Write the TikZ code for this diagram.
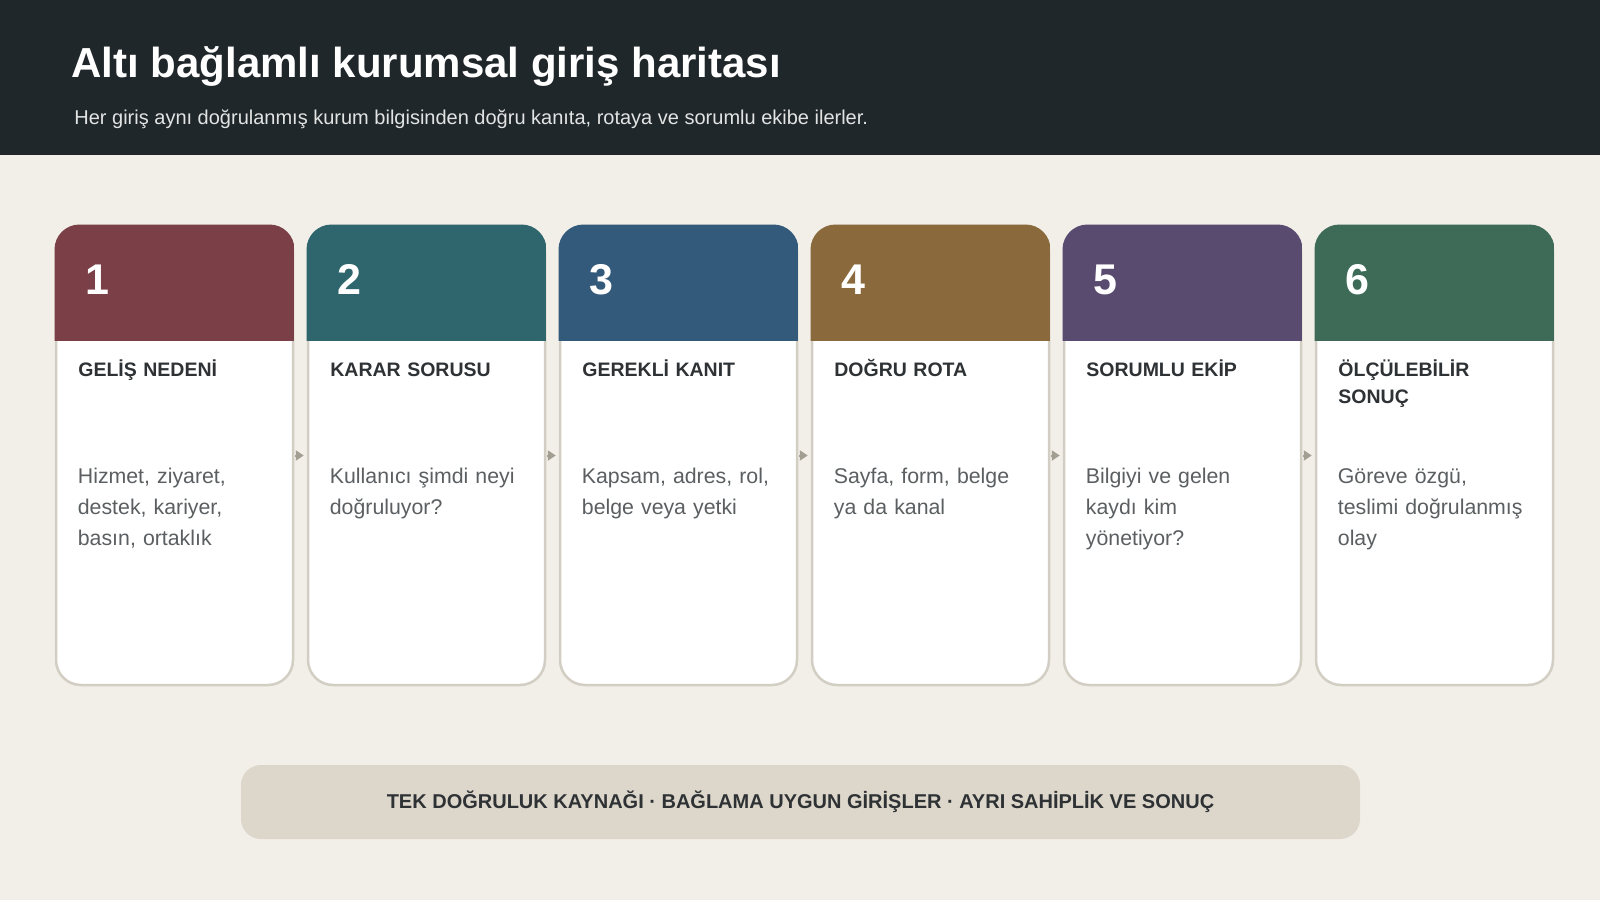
\documentclass[tikz,border=0pt]{standalone}
\usepackage{fontspec}
\setmainfont{Liberation Sans}
\usetikzlibrary{arrows.meta}
\definecolor{band}{HTML}{20272B}
\definecolor{paper}{HTML}{F2EFE9}
\definecolor{cardline}{HTML}{D3CEC3}
\definecolor{arrowgrey}{HTML}{A29E92}
\definecolor{inkdark}{HTML}{2E3235}
\definecolor{inkgrey}{HTML}{5B5F61}
\definecolor{subtext}{HTML}{E2E4E3}
\definecolor{barfill}{HTML}{DDD6CA}
\definecolor{reason}{HTML}{7A3F47}
\definecolor{question}{HTML}{2F656D}
\definecolor{proof}{HTML}{345A7B}
\definecolor{route}{HTML}{8A6A3C}
\definecolor{team}{HTML}{594B6F}
\definecolor{result}{HTML}{3D6B57}
\begin{document}
\begin{tikzpicture}
  [x=0.5pt,y=-0.5pt,
   card/.style={draw=cardline,line width=1.25pt,fill=white,rounded corners=12.5pt,
     minimum width=118.5pt,minimum height=229.5pt,inner sep=0pt},
   num/.style={anchor=base west,inner sep=0pt,text=white,font=\bfseries\fontsize{21.5}{24}\selectfont},
   head/.style={anchor=base west,inner sep=0pt,text=inkdark,align=left,text width=100pt,
     font=\bfseries\fontsize{9.75}{13.25}\selectfont},
   body/.style={anchor=base west,inner sep=0pt,text=inkgrey,align=left,text width=105pt,
     font=\fontsize{10.65}{15.5}\selectfont},
   flow/.style={draw=arrowgrey,line width=1pt,-{Triangle[length=4pt,width=5pt]},
     shorten >=1.5pt,shorten <=0.5pt},
   footer/.style={fill=barfill,rounded corners=10pt,minimum width=559.5pt,minimum height=37pt,
     text=inkdark,font=\bfseries\fontsize{10}{12}\selectfont}]

  % background and title band
  \fill[paper] (0,0) rectangle (1600,900);
  \fill[band] (0,0) rectangle (1600,155);
  \node[anchor=base west,inner sep=0pt,text=white,font=\bfseries\fontsize{21}{25}\selectfont]
    (title) at (71,77) {Altı bağlamlı kurumsal giriş haritası};
  \node[anchor=base west,inner sep=0pt,text=subtext,font=\fontsize{10}{12}\selectfont]
    (subtitle) at (74,124) {Her giriş aynı doğrulanmış kurum bilgisinden doğru kanıta, rotaya ve sorumlu ekibe ilerler.};

  % six cards
  \foreach \i/\col/\head/\body in {
      1/reason/{GELİŞ NEDENİ}/{Hizmet, ziyaret,\\destek, kariyer,\\basın, ortaklık},
      2/question/{KARAR SORUSU}/{Kullanıcı şimdi neyi\\doğruluyor?},
      3/proof/{GEREKLİ KANIT}/{Kapsam, adres, rol,\\belge veya yetki},
      4/route/{DOĞRU ROTA}/{Sayfa, form, belge\\ya da kanal},
      5/team/{SORUMLU EKİP}/{Bilgiyi ve gelen\\kaydı kim\\yönetiyor?},
      6/result/{ÖLÇÜLEBİLİR\\SONUÇ}/{Göreve özgü,\\teslimi doğrulanmış\\olay}}{
    \pgfmathsetmacro\xl{56+(\i-1)*252}
    \node[card] (c\i) at (\xl+118.5,455.5) {};
    \begin{scope}
      \clip[rounded corners=12.5pt] (\xl-1.5,224.5) rectangle (\xl+238.5,686.5);
      \fill[\col] (\xl-2,224) rectangle (\xl+239,341);
    \end{scope}
    \node[num] (num\i) at (\xl+29,294) {\i};
    \node[head] (head\i) at (\xl+22,376.5) {\head};
    \node[body] (body\i) at (\xl+21.5,483.5) {\body};
  }

  \foreach \from/\to in {c1/c2,c2/c3,c3/c4,c4/c5,c5/c6}
    \draw[flow] (\from.east) -- (\to.west);

  \node[footer] (footer) at (800.5,802)
    {TEK DOĞRULUK KAYNAĞI · BAĞLAMA UYGUN GİRİŞLER · AYRI SAHİPLİK VE SONUÇ};

\end{tikzpicture}
\end{document}
